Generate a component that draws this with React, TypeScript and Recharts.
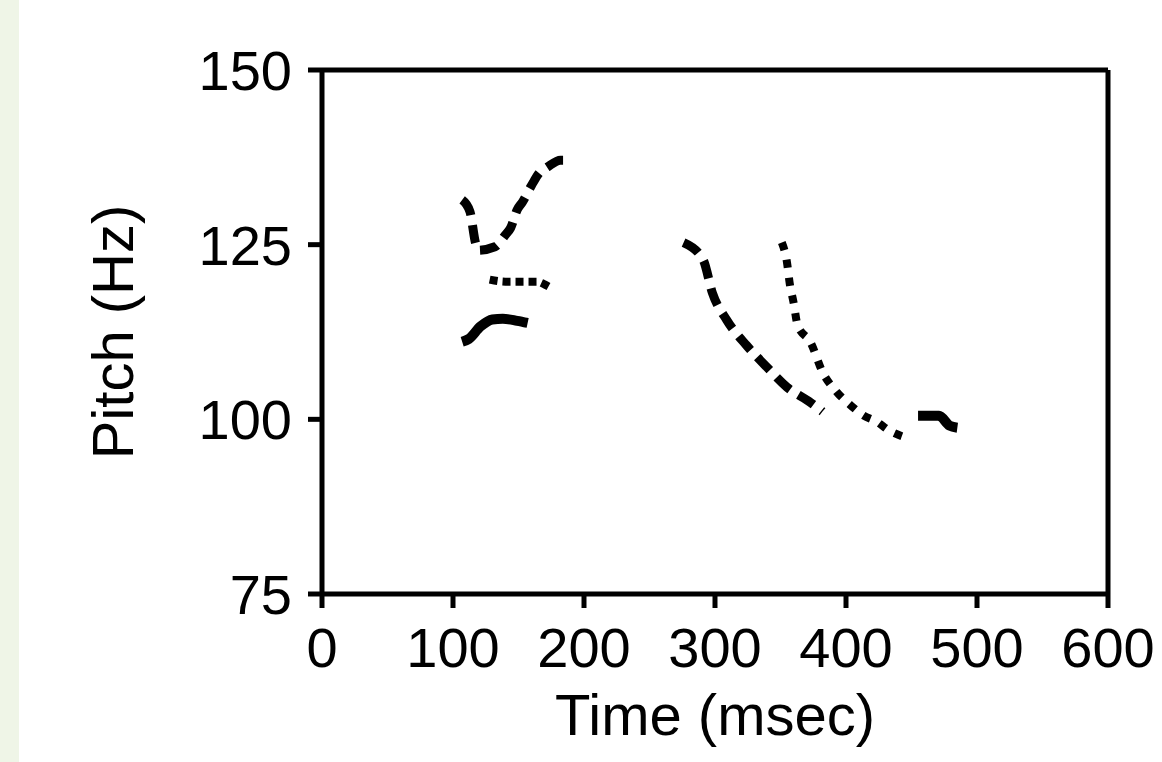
import React from "react";
import { LineChart, Line, XAxis, YAxis, ReferenceLine } from "recharts";

// Time (msec) / Pitch (Hz) per contour
const seriesATime = [107, 113, 117, 119, 132, 140, 144, 149, 153, 160, 166, 172, 182, 187];
const seriesAPitch = [131.4, 129.7, 125.4, 124.2, 124.7, 126.4, 127.4, 130.0, 131.1, 133.5, 135.3, 136.1, 137.1, 137.1];

const seriesBTime = [128, 140, 152, 164, 170, 175];
const seriesBPitch = [120, 119.7, 119.7, 119.7, 119.3, 118.8];

const seriesCTime = [107, 112, 121, 130, 138, 149, 157];
const seriesCPitch = [111.1, 111.5, 113.3, 114.3, 114.4, 114.1, 113.8];

const seriesDTime = [276, 291, 298, 309, 324, 340, 355, 373, 382];
const seriesDPitch = [125.3, 122.8, 118.1, 114.2, 110.6, 107.4, 104.6, 102.4, 101.1];

const seriesETime = [351, 355, 357, 360, 363, 373, 382, 393, 403, 413, 424, 432, 444];
const seriesEPitch = [125.3, 122.4, 119.5, 116.7, 113.5, 111.0, 106.8, 103.9, 102.1, 100.6, 99.6, 98.5, 97.5];

const seriesFTime = [455, 471, 479, 485];
const seriesFPitch = [100.5, 100.5, 99.1, 98.8];

const xTicks = [0, 100, 200, 300, 400, 500, 600];
const yTicks = [75, 100, 125, 150];

const build = (ts: number[], ps: number[]) => ts.map((t, i) => ({ t, p: ps[i] }));

const dataA = build(seriesATime, seriesAPitch);
const dataB = build(seriesBTime, seriesBPitch);
const dataC = build(seriesCTime, seriesCPitch);
const dataD = build(seriesDTime, seriesDPitch);
const dataE = build(seriesETime, seriesEPitch);
const dataF = build(seriesFTime, seriesFPitch);

const FONT = "'Liberation Sans', Arial, sans-serif";

const XLabel = (props: any) => {
  const vb = props.viewBox || { x: 322, y: 594, width: 786 };
  return (
    <text x={vb.x + vb.width / 2} y={vb.y + 141} textAnchor="middle" fontSize={58} fontFamily={FONT} fill="#000">
      Time (msec)
    </text>
  );
};

const YLabel = (props: any) => {
  const vb = props.viewBox || { x: 0, y: 70, width: 322, height: 524 };
  const cx = 133;
  const cy = vb.y + vb.height / 2;
  return (
    <text x={cx} y={cy} transform={`rotate(-90, ${cx}, ${cy})`} textAnchor="middle" fontSize={58} fontFamily={FONT} fill="#000">
      Pitch (Hz)
    </text>
  );
};

export default function App() {
  return (
    <div
      style={{
        width: 1162,
        height: 762,
        background: "linear-gradient(to right, #eff5e7 0px, #eff5e7 19px, #ffffff 19px, #ffffff 100%)",
      }}
    >
      <style>{"body{margin:0}"}</style>
      <LineChart width={1162} height={762} margin={{ top: 70, right: 54, bottom: 0, left: 0 }}>
        <XAxis
          type="number"
          dataKey="t"
          domain={[0, 600]}
          ticks={xTicks}
          interval={0}
          height={168}
          tickSize={14}
          tickMargin={19}
          axisLine={{ stroke: "#000", strokeWidth: 5 }}
          tickLine={{ stroke: "#000", strokeWidth: 5 }}
          tick={{ fill: "#000", fontSize: 56, fontFamily: FONT }}
          allowDataOverflow
          label={<XLabel />}
        />
        <YAxis
          type="number"
          dataKey="p"
          domain={[75, 150]}
          ticks={yTicks}
          interval={0}
          width={322}
          tickSize={14}
          tickMargin={16}
          axisLine={{ stroke: "#000", strokeWidth: 5 }}
          tickLine={{ stroke: "#000", strokeWidth: 5 }}
          tick={{ fill: "#000", fontSize: 56, fontFamily: FONT }}
          allowDataOverflow
          label={<YLabel />}
        />
        <ReferenceLine y={150} stroke="#000" strokeWidth={5} />
        <ReferenceLine x={600} stroke="#000" strokeWidth={5} />
        <Line data={dataA} dataKey="p" type="monotone" stroke="#000" strokeWidth={9} strokeDasharray="18 10" dot={false} activeDot={false} isAnimationActive={false} />
        <Line data={dataB} dataKey="p" type="monotone" stroke="#000" strokeWidth={8} strokeDasharray="8 5" dot={false} activeDot={false} isAnimationActive={false} />
        <Line data={dataC} dataKey="p" type="monotone" stroke="#000" strokeWidth={10} dot={false} activeDot={false} isAnimationActive={false} />
        <Line data={dataD} dataKey="p" type="monotone" stroke="#000" strokeWidth={9} strokeDasharray="18 10" dot={false} activeDot={false} isAnimationActive={false} />
        <Line data={dataE} dataKey="p" type="monotone" stroke="#000" strokeWidth={8} strokeDasharray="8 10" dot={false} activeDot={false} isAnimationActive={false} />
        <Line data={dataF} dataKey="p" type="monotone" stroke="#000" strokeWidth={10} dot={false} activeDot={false} isAnimationActive={false} />
      </LineChart>
    </div>
  );
}
